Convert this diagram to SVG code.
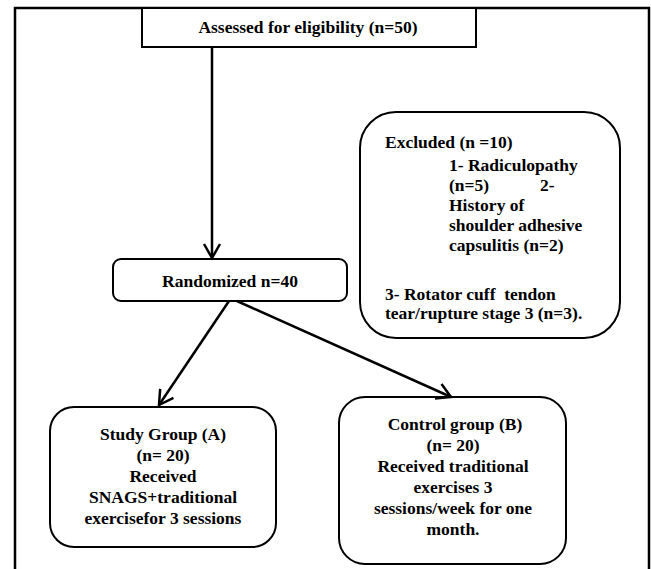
<svg xmlns="http://www.w3.org/2000/svg" width="651" height="569" viewBox="0 0 651 569">
<defs>
<style>
.box{fill:#fff;stroke:#000;stroke-width:2}
text{font-family:'Liberation Serif','Times New Roman',Times,serif;font-weight:700;font-size:17.5px;fill:#000}
.c{text-anchor:middle}
.conn{fill:none;stroke:#000;stroke-width:2.5}
</style>
<marker id="arr" markerUnits="userSpaceOnUse" markerWidth="20" markerHeight="20" viewBox="-16 -10 20 20" refX="0" refY="0" orient="auto">
<path d="M-14,-8 L0,0 L-14,8" fill="none" stroke="#000" stroke-width="2.5"/>
</marker>
<clipPath id="exclip"><rect x="360" y="112" width="260" height="211"/></clipPath>
</defs>
<rect width="651" height="569" fill="#fff"/>
<g id="frame"><path d="M15,569 V8 H649 V569" fill="none" stroke="#000" stroke-width="2.5"/></g>
<g id="assessed">
<rect class="box" x="142" y="8" width="334" height="39"/>
<text class="c" x="308" y="33">Assessed for eligibility (n=50)</text>
</g>
<g id="excluded">
<rect class="box" x="360" y="112" width="260" height="226" rx="36" ry="36"/>
<g clip-path="url(#exclip)">
<text x="385" y="148">Excluded (n =10)</text>
<text x="449" y="171">1- Radiculopathy</text>
<text x="449" y="191">(n=5)</text>
<text x="540" y="191">2-</text>
<text x="449" y="211">History of</text>
<text x="449" y="231">shoulder adhesive</text>
<text x="449" y="251">capsulitis (n=2)</text>
<text x="385" y="300" xml:space="preserve">3- Rotator cuff  tendon</text>
<text x="385" y="319">tear/rupture stage 3 (n=3).</text>
</g>
</g>
<g id="randomized">
<rect class="box" x="113" y="259" width="234" height="42" rx="8" ry="8"/>
<text class="c" x="230" y="287">Randomized n=40</text>
</g>
<g id="study">
<rect class="box" x="50" y="407" width="226" height="140" rx="24" ry="24"/>
<text class="c" x="163" y="440">Study Group (A)</text>
<text class="c" x="163" y="461">(n= 20)</text>
<text class="c" x="163" y="482">Received</text>
<text class="c" x="163" y="503">SNAGS+traditional</text>
<text class="c" x="163" y="524">exercisefor 3 sessions</text>
</g>
<g id="control">
<rect class="box" x="339" y="397" width="227" height="167" rx="26" ry="26"/>
<text class="c" x="455" y="430">Control group (B)</text>
<text class="c" x="453" y="451">(n= 20)</text>
<text class="c" x="453" y="472">Received traditional</text>
<text class="c" x="453" y="493">exercises 3</text>
<text class="c" x="453" y="514">sessions/week for one</text>
<text class="c" x="453" y="535">month.</text>
</g>
<g id="connectors">
<path class="conn" d="M212,47 V258" marker-end="url(#arr)"/>
<path class="conn" d="M229,301 L159,405" marker-end="url(#arr)"/>
<path class="conn" d="M237,301 L451,397" marker-end="url(#arr)"/>
</g>
</svg>
